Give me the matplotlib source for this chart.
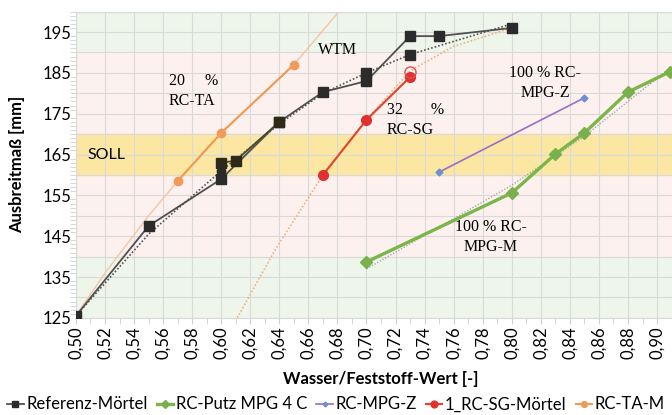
import matplotlib
matplotlib.use("Agg")
import matplotlib.pyplot as plt
from matplotlib.ticker import MultipleLocator, FuncFormatter

# Referenz-Moertel (main series)
ref_x = [0.50, 0.55, 0.60, 0.64, 0.67, 0.70, 0.73, 0.75, 0.80]
ref_y = [125.5, 147.5, 159.0, 173.0, 180.3, 183.0, 194.0, 194.0, 196.0]

# second Referenz run (olive squares)
ref2_x = [0.60, 0.61, 0.64]
ref2_y = [163.0, 163.5, 173.0]

# WTM series (dotted)
wtm_x = [0.50, 0.55, 0.60, 0.64, 0.67, 0.70, 0.73, 0.80]
wtm_y = [125.5, 145.5, 161.0, 172.5, 180.0, 185.0, 189.5, 197.0]
wtm_mk_x = [0.70, 0.73]
wtm_mk_y = [185.0, 189.4]

# RC-Putz MPG 4 C
mpg4_x = [0.70, 0.80, 0.83, 0.85, 0.88, 0.909]
mpg4_y = [138.7, 155.6, 165.1, 170.3, 180.3, 185.3]
mpg4_trend_x = [0.70, 0.80, 0.85, 0.91]
mpg4_trend_y = [137.0, 157.5, 169.5, 186.5]

# RC-MPG-Z
mpgz_x = [0.75, 0.85]
mpgz_y = [160.7, 178.9]

# 1_RC-SG-Moertel
sg_x = [0.67, 0.70, 0.73]
sg_y = [160.0, 173.5, 184.0]
sg_open_x = [0.73]
sg_open_y = [185.2]
sg_trend_x = [0.611, 0.637, 0.67, 0.70, 0.73, 0.76, 0.80]
sg_trend_y = [125.0, 141.6, 160.0, 173.5, 185.5, 191.5, 196.0]

# RC-TA-M
ta_x = [0.57, 0.60, 0.65]
ta_y = [158.5, 170.3, 187.0]
ta_trend_x = [0.50, 0.52, 0.55, 0.57, 0.60, 0.65, 0.681]
ta_trend_y = [125.5, 136.0, 150.0, 158.5, 170.3, 187.0, 200.0]

x_ticks = [0.50, 0.52, 0.54, 0.56, 0.58, 0.60, 0.62, 0.64, 0.66, 0.68, 0.70,
           0.72, 0.74, 0.76, 0.78, 0.80, 0.82, 0.84, 0.86, 0.88, 0.90]
y_ticks = [125, 135, 145, 155, 165, 175, 185, 195]

fig = plt.figure(figsize=(6.72, 4.15), dpi=100)
ax = fig.add_axes([0.113, 0.234, 0.908, 0.738])

# background bands
ax.axhspan(190, 200, color="#eef5ea", zorder=0)
ax.axhspan(140, 190, color="#fcf1ee", zorder=0)
ax.axhspan(125, 140, color="#eef5ea", zorder=0)
ax.axhspan(160, 170, color="#fbe6a2", zorder=0)

ax.set_xlim(0.50, 0.92)
ax.set_ylim(125, 200)
ax.set_xticks(x_ticks)
ax.xaxis.set_minor_locator(MultipleLocator(0.01))
ax.set_yticks(y_ticks)
ax.yaxis.set_minor_locator(MultipleLocator(1))
ax.xaxis.set_major_formatter(FuncFormatter(lambda v, p: f"{v:.2f}".replace(".", ",")))

for v in [125 + 5 * i for i in range(16)]:
    ax.axhline(v, color="#d9d9d9", lw=0.8, zorder=1)
for i in range(22):
    ax.axvline(0.50 + 0.02 * i, color="#d9d9d9", lw=0.8, zorder=1)

ax.tick_params(axis="both", which="major", labelsize=12, length=0, colors="#d0d0d0",
               labelcolor="#000000")
ax.tick_params(axis="x", which="major", labelrotation=90, length=4, pad=2)
ax.tick_params(axis="both", which="minor", length=4, color="#d0d0d0")
for lab in ax.get_xticklabels() + ax.get_yticklabels():
    lab.set_family("Lato")
for s in ax.spines.values():
    s.set_color("#d9d9d9")

# trend lines
ax.plot(ta_trend_x, ta_trend_y, color="#f5c4a6", lw=1, zorder=2)
ax.plot(sg_trend_x, sg_trend_y, color="#f2b27e", lw=1.2, ls=(0, (1, 1.2)), zorder=2)
ax.plot(mpg4_trend_x, mpg4_trend_y, color="#a8a8a8", lw=1, ls=(0, (1, 1.2)), zorder=2)
ax.plot(wtm_x, wtm_y, color="#555555", lw=1.2, ls=(0, (1, 1.2)), zorder=3)
ax.plot(wtm_mk_x, wtm_mk_y, ls="none", marker="s", ms=7, color="#2b2b2b", zorder=5)
ax.plot([0.60], [161.0], ls="none", marker="o", ms=6, color="#2b2b2b", zorder=5)

# data series
ax.plot(ref_x, ref_y, color="#505050", lw=1.3, marker="s", ms=7, mfc="#2b2b2b",
        mec="#2b2b2b", zorder=4, label="Referenz-Mörtel")
ax.plot(ref2_x, ref2_y, color="#4a4a2a", lw=1.3, marker="s", ms=7, mfc="#2e2a1a",
        mec="#2e2a1a", zorder=4)
ax.plot(mpg4_x, mpg4_y, color="#7ab648", lw=2.4, marker="D", ms=6, mfc="#79b04e",
        mec="#79b04e", zorder=4, label="RC-Putz MPG 4 C")
ax.plot(mpgz_x, mpgz_y, color="#9a6ec4", lw=1.2, marker="D", ms=3.5, mfc="#6f8fd0",
        mec="#6f8fd0", zorder=4, label="RC-MPG-Z")
ax.plot(sg_x, sg_y, color="#e0442a", lw=1.5, marker="o", ms=7, mfc="#e03030",
        mec="#e03030", zorder=4, label="1_RC-SG-Mörtel")
ax.plot(sg_open_x, sg_open_y, ls="none", marker="o", ms=8, mfc="none",
        mec="#e05050", zorder=4)
ax.plot(ta_x, ta_y, color="#f09a50", lw=1.5, marker="o", ms=6, mfc="#f29a5a",
        mec="#f29a5a", zorder=4, label="RC-TA-M")

# annotations
serif = dict(family="Liberation Serif", fontsize=11.5, color="#000000", zorder=6)
ax.text(0.680, 190.6, "WTM", ha="center", va="center", **serif)
ax.text(0.564, 180.6, "20     %\nRC-TA", ha="left", va="center", linespacing=1.3, **serif)
ax.text(0.714, 173.5, "32       %\nRC-SG", ha="left", va="center", linespacing=1.3, **serif)
ax.text(0.823, 182.5, "100 % RC-\nMPG-Z", ha="center", va="center", linespacing=1.3, **serif)
ax.text(0.7855, 144.8, "100 % RC-\nMPG-M", ha="center", va="center", linespacing=1.3, **serif)
ax.text(0.508, 164.9, "SOLL", ha="left", va="center", family="Lato", fontsize=11.5, zorder=6)

ax.set_ylabel("Ausbreitmaß [mm]", family="Lato", fontsize=12, fontweight="bold", labelpad=12)
ax.set_xlabel("Wasser/Feststoff-Wert [-]", family="Lato", fontsize=12, fontweight="bold",
              labelpad=9)

fig.legend(loc="lower left", bbox_to_anchor=(-0.012, -0.03), ncol=5, frameon=False,
           prop={"family": "Lato", "size": 12}, handlelength=1.0, handletextpad=0.15,
           columnspacing=0.55, markerscale=0.7)

fig.savefig("out.png", dpi=100)
